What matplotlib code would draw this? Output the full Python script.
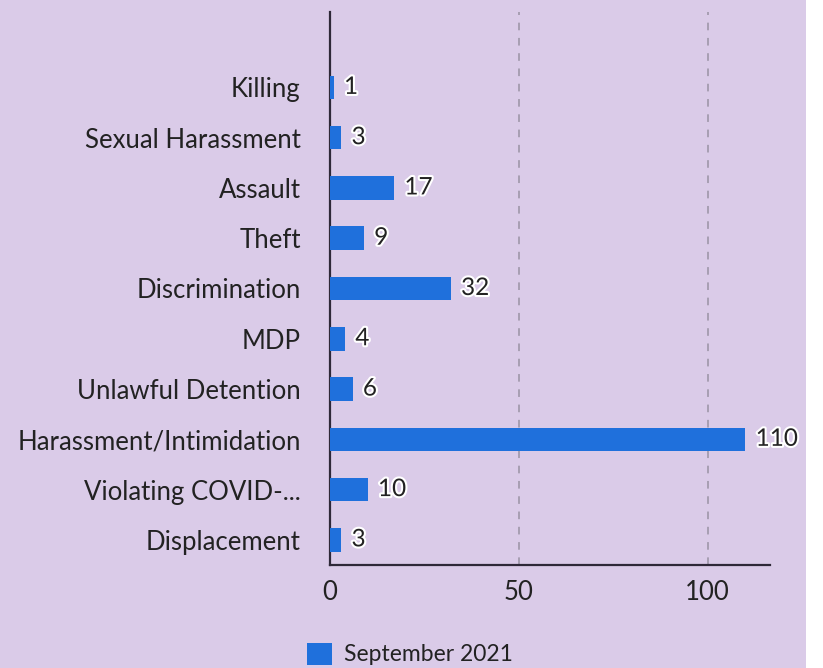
import matplotlib.pyplot as plt
import matplotlib.patheffects as pe
from matplotlib.patches import Rectangle

categories = ['Killing', 'Sexual Harassment', 'Assault', 'Theft', 'Discrimination',
              'MDP', 'Unlawful Detention', 'Harassment/Intimidation',
              'Violating COVID-...', 'Displacement']
values = [1, 3, 17, 9, 32, 4, 6, 110, 10, 3]
xticks = [0, 50, 100]
series_name = 'September 2021'

bg = '#dacbe8'
bar_color = '#1f70dc'
text_color = '#222222'

plt.rcParams['font.family'] = ['Lato', 'DejaVu Sans']

fig = plt.figure(figsize=(8.23, 6.68), dpi=100)
fig.patch.set_facecolor('white')
# lavender panel, white strip on the right
fig.patches.append(Rectangle((0, 0), 806 / 823, 1, transform=fig.transFigure,
                             facecolor=bg, edgecolor='none', zorder=-10))

ax = fig.add_axes([330 / 823, 1 - 565 / 668, 440 / 823, 553 / 668])
ax.patch.set_alpha(0)

pos = list(range(len(categories)))
bars = ax.barh(pos, values, height=0.47, color=bar_color, zorder=3)

for p, v in zip(pos, values):
    t = ax.text(v + 2.7, p, str(v), va='center', ha='left', fontsize=17.5,
                color=text_color, zorder=4)
    t.set_path_effects([pe.withStroke(linewidth=3, foreground='white')])

ax.set_ylim(9.5, -1.5)
ax.set_xlim(0, 116.5)
ax.set_yticks(pos)
ax.set_yticklabels(categories, fontsize=18.5, color=text_color)
ax.set_xticks(xticks)
ax.set_xticklabels([str(x) for x in xticks], fontsize=18.5, color=text_color)
ax.tick_params(axis='both', length=0)
ax.tick_params(axis='y', pad=21)
ax.tick_params(axis='x', pad=11)

for x in xticks[1:]:
    ax.axvline(x, color='#9a92a4', linestyle=(0, (5, 5)), linewidth=1.1, zorder=1)

for s in ['top', 'right']:
    ax.spines[s].set_visible(False)
for s in ['left', 'bottom']:
    ax.spines[s].set_color('#2e2838')
    ax.spines[s].set_linewidth(1.6)

leg = fig.legend([bars], [series_name], loc='center', bbox_to_anchor=(410 / 823, 1 - 654 / 668),
                 frameon=False, fontsize=16.5, handlelength=1.1, handleheight=1.1,
                 handletextpad=0.5)
for txt in leg.get_texts():
    txt.set_color(text_color)

fig.savefig('out.png', dpi=100, facecolor=fig.get_facecolor())
